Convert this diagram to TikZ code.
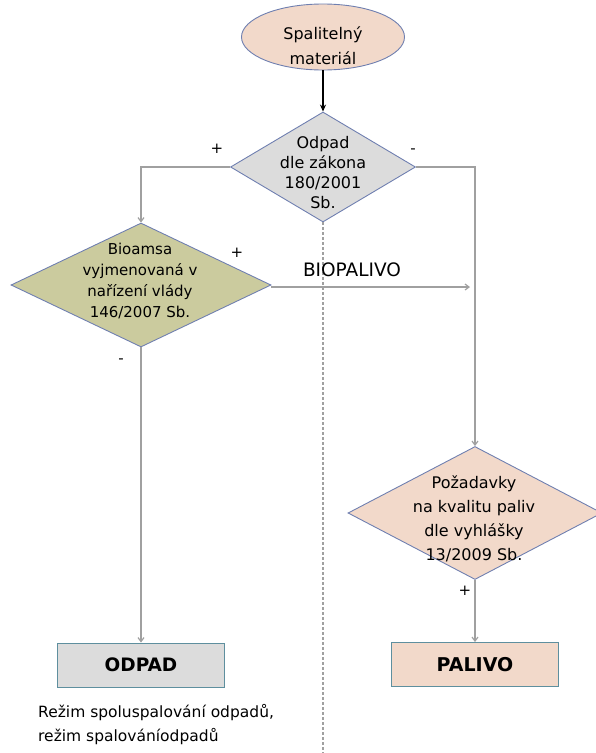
\documentclass[tikz,border=0pt]{standalone}
\usepackage{fontspec}
\setmainfont{DejaVu Sans}
\usetikzlibrary{shapes.geometric,arrows.meta}
\definecolor{peach}{HTML}{F2D9CA}
\definecolor{greyfill}{HTML}{DCDCDC}
\definecolor{olive}{HTML}{CBCB9E}
\definecolor{shapeline}{HTML}{6F7FB0}
\definecolor{boxline}{HTML}{5E8F9E}
\definecolor{conn}{HTML}{A0A0A0}
\begin{document}
\begin{tikzpicture}[x=1pt,y=-1pt,
  dia/.style={diamond,draw=shapeline,line width=0.9pt,inner sep=0pt,minimum width=#1},
  boxn/.style={rectangle,draw=boxline,line width=1pt,minimum width=167pt,minimum height=44pt,inner sep=0pt},
  txt/.style={align=center,inner sep=0pt,font=\fontsize{16}{22}\selectfont},
  conline/.style={draw=conn,line width=1.2pt},
  conarrow/.style={conline,-{Straight Barb[length=4pt,width=6pt]}},
  sign/.style={inner sep=0pt,font=\fontsize{15}{15}\selectfont}
]
\useasboundingbox (0,0) rectangle (596,753);
% shapes
\node[ellipse,draw=shapeline,line width=0.9pt,fill=peach,minimum width=163pt,minimum height=66pt,inner sep=0pt] (ell) at (323,37) {};
\node[txt,font=\fontsize{16}{25}\selectfont] (ellt) at (323,46) {Spalitelný\\materiál};
\node[dia=185pt,fill=greyfill,minimum height=110pt] (d1) at (323,167) {};
\node[txt,font=\fontsize{16}{20}\selectfont] (d1t) at (323,173) {Odpad\\dle zákona\\180/2001\\Sb.};
\node[dia=260pt,fill=olive,minimum height=124pt] (d2) at (141,285) {};
\node[txt,font=\fontsize{15}{21}\selectfont] (d2t) at (140,281) {Bioamsa\\vyjmenovaná v\\nařízení vlády\\146/2007 Sb.};
\node[dia=254pt,fill=peach,minimum height=133pt] (d3) at (475,513) {};
\node[txt,font=\fontsize{16}{24}\selectfont] (d3t) at (474,519) {Požadavky\\na kvalitu paliv\\dle vyhlášky\\13/2009 Sb.};
\node[boxn,fill=greyfill,font=\bfseries\fontsize{18.5}{20}\selectfont] (b1) at (141,665) {ODPAD};
\node[boxn,fill=peach,font=\bfseries\fontsize{19}{20}\selectfont] (b2) at (475,664.5) {PALIVO};
% coordinates
\coordinate (bpend) at (470,287);
\coordinate (dotend) at (323,753);
% connectors
\draw[conarrow] (d1.west) -| (d2.north);
\draw[conarrow] (d1.east) -| (d3.north);
\draw[conarrow] (d2.east |- bpend) -- (bpend);
\draw[conarrow] (d2.south) -- (b1.north);
\draw[conarrow] (d3.south) -- (b2.north);
\draw[draw=conn,line width=1.2pt,dash pattern=on 3pt off 2pt] (d1.south) -- (dotend);
\draw[line width=1.6pt,-{Stealth[length=7pt,width=6pt]}] (ell.south) -- (d1.north);
% labels
\node[sign] (p1) at (217,149) {+};
\node[sign] (m1) at (413,151) {-};
\node[sign] (p2) at (237,253) {+};
\node[inner sep=0pt,font=\fontsize{18.5}{20}\selectfont] (bio) at (352,270) {BIOPALIVO};
\node[sign] (m2) at (121,361) {-};
\node[sign] (p3) at (465,591) {+};
\node[inner sep=0pt,anchor=west,align=left,font=\fontsize{15.5}{24}\selectfont] (note) at (38,725) {Režim spoluspalování odpadů,\\režim spalováníodpadů};
\end{tikzpicture}
\end{document}
